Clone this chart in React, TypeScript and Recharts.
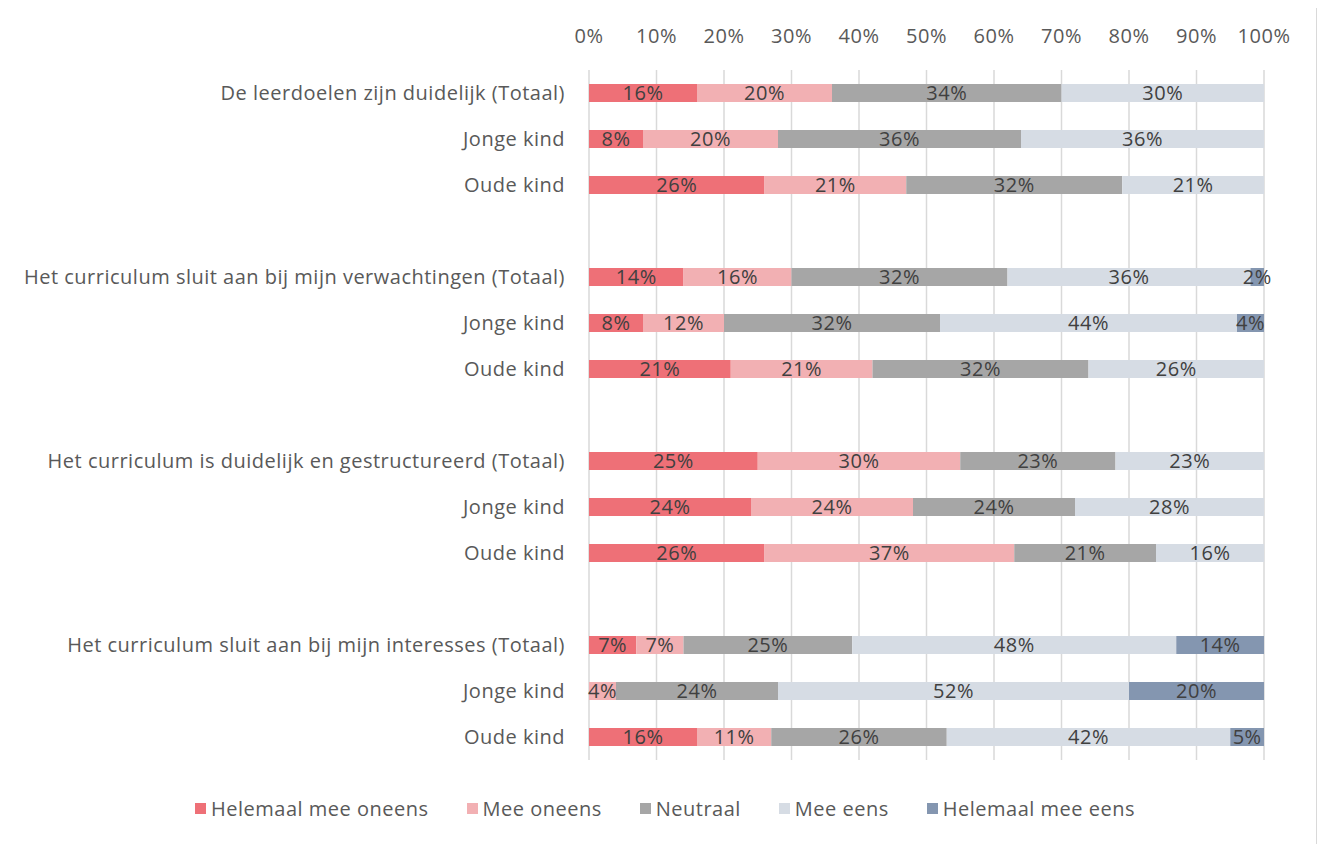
import React from "react";
import { BarChart, Bar, XAxis, YAxis, CartesianGrid, LabelList } from "recharts";

const categories = [
  "De leerdoelen zijn duidelijk (Totaal)", "Jonge kind", "Oude kind", "",
  "Het curriculum sluit aan bij mijn verwachtingen (Totaal)", "Jonge kind", "Oude kind", "",
  "Het curriculum is duidelijk en gestructureerd (Totaal)", "Jonge kind", "Oude kind", "",
  "Het curriculum sluit aan bij mijn interesses (Totaal)", "Jonge kind", "Oude kind",
];

const helemaalOneens = [16, 8, 26, null, 14, 8, 21, null, 25, 24, 26, null, 7, 0, 16];
const meeOneens = [20, 20, 21, null, 16, 12, 21, null, 30, 24, 37, null, 7, 4, 11];
const neutraal = [34, 36, 32, null, 32, 32, 32, null, 23, 24, 21, null, 25, 24, 26];
const meeEens = [30, 36, 21, null, 36, 44, 26, null, 23, 28, 16, null, 48, 52, 42];
const helemaalEens = [0, 0, 0, null, 2, 4, 0, null, 0, 0, 0, null, 14, 20, 5];

const xTicks = [0, 10, 20, 30, 40, 50, 60, 70, 80, 90, 100];

const series = [
  { key: "a", name: "Helemaal mee oneens", color: "#ee7077", values: helemaalOneens },
  { key: "b", name: "Mee oneens", color: "#f2b0b3", values: meeOneens },
  { key: "c", name: "Neutraal", color: "#a6a6a6", values: neutraal },
  { key: "d", name: "Mee eens", color: "#d6dce4", values: meeEens },
  { key: "e", name: "Helemaal mee eens", color: "#8496b0", values: helemaalEens },
];

const data = categories.map((name, i) => {
  const row: Record<string, any> = { row: i, name };
  series.forEach(s => { row[s.key] = s.values[i]; });
  return row;
});

const FONT = "'Open Sans', sans-serif";
const textStyle = { fontSize: 20, fontFamily: FONT, letterSpacing: 0.5 };

function ChartLegend() {
  return (
    <div style={{ display: "flex", justifyContent: "center", gap: 38, ...textStyle, color: "#595959" }}>
      {series.map(s => (
        <div key={s.key} style={{ display: "flex", alignItems: "center" }}>
          <span style={{ width: 11, height: 11, background: s.color, display: "inline-block", marginRight: 5 }} />
          <span>{s.name}</span>
        </div>
      ))}
    </div>
  );
}

export default function App() {
  return (
    <div style={{ width: 1310, height: 850, border: "1px solid #d9d9d9", marginLeft: -1, marginTop: -1, background: "#fff", position: "relative", boxSizing: "border-box" }}>
      <BarChart
        width={1308}
        height={752}
        data={data}
        layout="vertical"
        margin={{ top: 32, right: 52, bottom: 0, left: 0 }}
        barSize={18}
      >
        <CartesianGrid horizontal={false} stroke="#d9d9d9" strokeWidth={1.5} />
        <XAxis
          type="number"
          orientation="top"
          domain={[0, 100]}
          ticks={xTicks}
          allowDataOverflow
          tickFormatter={(v: number) => `${v}%`}
          axisLine={false}
          tickLine={false}
          tickSize={0}
          tickMargin={27}
          height={30}
          tick={{ fill: "#595959", ...textStyle }}
        />
        <YAxis
          type="category"
          dataKey="row"
          width={581}
          axisLine={false}
          tickLine={false}
          tickSize={0}
          tickMargin={24}
          interval={0}
          tickFormatter={(i: number) => categories[i]}
          tick={{ fill: "#595959", ...textStyle }}
        />
        {series.map(s => (
          <Bar key={s.key} dataKey={s.key} name={s.name} stackId="1" fill={s.color} isAnimationActive={false}>
            <LabelList
              dataKey={s.key}
              position="center"
              formatter={(v: any) => (v ? `${v}%` : "")}
              style={{ fill: "#404040", ...textStyle }}
            />
          </Bar>
        ))}
      </BarChart>
      <div style={{ position: "absolute", left: 0, width: 1314, top: 787 }}>
        <ChartLegend />
      </div>
    </div>
  );
}
